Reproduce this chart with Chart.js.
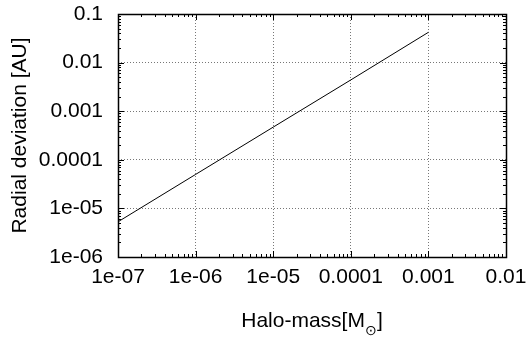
<!DOCTYPE html>
<html>
<head>
<meta charset="utf-8">
<script src="https://cdn.jsdelivr.net/npm/chart.js@4"></script>
<style>
  html, body { margin: 0; padding: 0; background: #fff; }
  #wrap { width: 528px; height: 337px; }
</style>
</head>
<body>
<div id="wrap"><canvas id="chart" width="528" height="337"></canvas></div>
<script>
// values
const haloMass = [1e-7, 1e-6, 1e-5, 1e-4, 1e-3];
const radialDeviation = [5.3e-6, 5.0e-5, 4.7e-4, 4.4e-3, 4.2e-2];

const xTickValues = [1e-7, 1e-6, 1e-5, 1e-4, 1e-3, 1e-2];
const xTickLabels = ["1e-07", "1e-06", "1e-05", "0.0001", "0.001", "0.01"];
const yTickValues = [1e-6, 1e-5, 1e-4, 1e-3, 1e-2, 1e-1];
const yTickLabels = ["1e-06", "1e-05", "0.0001", "0.001", "0.01", "0.1"];

const FONT = "'Liberation Sans', Arial, sans-serif";
const FS = 21;

// gnuplot-like frame with inward major/minor ticks, plus the x title with subscript
const framePlugin = {
  id: "frame",
  afterDraw(chart) {
    const ctx = chart.ctx;
    const a = chart.chartArea;
    const xs = chart.scales.x;
    const ys = chart.scales.y;
    ctx.save();
    ctx.strokeStyle = "#000";
    ctx.lineWidth = 1;
    ctx.beginPath();
    // ticks on x
    xTickValues.forEach((v, i) => {
      const px = Math.round(xs.getPixelForValue(v)) + 0.5;
      ctx.moveTo(px, a.bottom); ctx.lineTo(px, a.bottom - 6);
      ctx.moveTo(px, a.top); ctx.lineTo(px, a.top + 6);
      if (i < xTickValues.length - 1) {
        for (let m = 2; m <= 9; m++) {
          const mx = Math.round(xs.getPixelForValue(v * m)) + 0.5;
          ctx.moveTo(mx, a.bottom); ctx.lineTo(mx, a.bottom - 3);
          ctx.moveTo(mx, a.top); ctx.lineTo(mx, a.top + 3);
        }
      }
    });
    // ticks on y
    yTickValues.forEach((v, i) => {
      const py = Math.round(ys.getPixelForValue(v)) + 0.5;
      ctx.moveTo(a.left, py); ctx.lineTo(a.left + 6, py);
      ctx.moveTo(a.right, py); ctx.lineTo(a.right - 6, py);
      if (i < yTickValues.length - 1) {
        for (let m = 2; m <= 9; m++) {
          const my = Math.round(ys.getPixelForValue(v * m)) + 0.5;
          ctx.moveTo(a.left, my); ctx.lineTo(a.left + 3, my);
          ctx.moveTo(a.right, my); ctx.lineTo(a.right - 3, my);
        }
      }
    });
    ctx.stroke();
    ctx.lineWidth = 1.5;
    ctx.strokeRect(Math.round(a.left) + 0.5, Math.round(a.top) + 0.5,
      Math.round(a.right - a.left), Math.round(a.bottom - a.top));

    // x axis title: Halo-mass[M_sun]
    ctx.fillStyle = "#000";
    ctx.textBaseline = "alphabetic";
    const main = "Halo-mass[M";
    const sub = "\u2299";
    const close = "]";
    ctx.font = "14px " + FONT;
    const subW = ctx.measureText(sub).width;
    ctx.font = FS + "px " + FONT;
    const w = ctx.measureText(main).width + subW + ctx.measureText(close).width;
    let x = (a.left + a.right) / 2 - w / 2;
    const y = 327;
    ctx.fillText(main, x, y);
    x += ctx.measureText(main).width;
    ctx.font = "14px " + FONT;
    ctx.fillText(sub, x, y + 8);
    x += subW;
    ctx.font = FS + "px " + FONT;
    ctx.fillText(close, x, y);
    ctx.restore();
  }
};

new Chart(document.getElementById("chart").getContext("2d"), {
  type: "line",
  data: {
    datasets: [{
      label: "deviation",
      data: haloMass.map((m, i) => ({ x: m, y: radialDeviation[i] })),
      borderColor: "#000",
      borderWidth: 1,
      pointRadius: 0,
      fill: false,
      tension: 0
    }]
  },
  options: {
    responsive: false,
    animation: false,
    layout: { padding: { top: 14, right: 22, left: 0, bottom: 0 } },
    plugins: {
      legend: { display: false },
      tooltip: { enabled: false }
    },
    scales: {
      x: {
        type: "logarithmic",
        min: 1e-7,
        max: 1e-2,
        afterFit: (s) => { s.height = 80; s.paddingLeft = 0; s.paddingRight = 0; },
        afterBuildTicks: (s) => { s.ticks = xTickValues.map((v) => ({ value: v })); },
        border: { display: false, dash: [1, 2] },
        grid: {
          color: "#777",
          lineWidth: 1,
          drawTicks: false
        },
        ticks: {
          color: "#000",
          font: { family: FONT, size: FS },
          padding: 8,
          maxRotation: 0,
          autoSkip: false,
          callback: (v, i) => xTickLabels[i]
        }
      },
      y: {
        type: "logarithmic",
        min: 1e-6,
        max: 1e-1,
        afterFit: (s) => { s.width = 118; s.paddingTop = 0; s.paddingBottom = 0; },
        afterBuildTicks: (s) => { s.ticks = yTickValues.map((v) => ({ value: v })); },
        border: { display: false, dash: [1, 2] },
        grid: {
          color: "#777",
          lineWidth: 1,
          drawTicks: false
        },
        ticks: {
          color: "#000",
          font: { family: FONT, size: FS },
          padding: 15,
          autoSkip: false,
          callback: (v, i) => yTickLabels[i]
        },
        title: {
          display: true,
          text: "Radial deviation [AU]",
          color: "#000",
          font: { family: FONT, size: FS },
          padding: { top: 8, bottom: 0 }
        }
      }
    }
  },
  plugins: [framePlugin]
});
</script>
</body>
</html>
